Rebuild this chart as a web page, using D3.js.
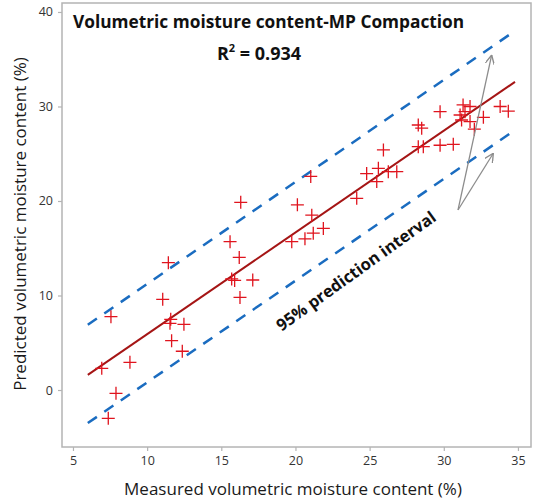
<!DOCTYPE html>
<html>
<head>
<meta charset="utf-8">
<title>Volumetric moisture content-MP Compaction</title>
<script src="https://cdn.jsdelivr.net/npm/d3@7"></script>
<style>
  body { margin: 0; background: #fff; }
  text { font-family: "Open Sans", "Noto Sans", sans-serif; }
</style>
</head>
<body>
<div id="chart"></div>
<script>
// measured vs predicted points
const measured = [7.38, 7.90, 6.94, 8.84, 12.37, 11.65, 12.48, 11.54, 11.59, 7.56,
  11.05, 11.43, 16.26, 15.70, 15.90, 17.12, 16.21, 15.59, 16.31, 19.75,
  20.64, 21.20, 21.88, 21.10, 20.13, 21.03, 24.13, 24.80, 25.59, 25.48,
  26.26, 26.83, 25.93, 28.28, 28.51, 28.28, 28.62, 29.75, 30.64, 29.75,
  31.30, 31.77, 31.10, 31.43, 32.67, 31.77, 31.20, 32.06, 33.80, 34.35];
const predicted = [-3.0, -0.35, 2.29, 2.93, 4.1, 5.22, 6.95, 7.06, 7.48, 7.76,
  9.6, 13.47, 9.8, 11.75, 11.6, 11.64, 14.03, 15.7, 19.86, 15.7,
  16.0, 16.6, 17.1, 18.5, 19.6, 22.6, 20.28, 22.9, 23.46, 22.05,
  23.1, 23.1, 25.4, 28.04, 27.7, 25.75, 25.75, 25.9, 26.0, 29.45,
  30.16, 30.0, 29.1, 29.45, 28.85, 28.4, 28.57, 27.6, 30.0, 29.5];

// fitted line and 95% prediction interval (end points)
const fitX = [6.0, 34.8];
const fitY = [1.6, 32.6];
const upperY = [6.9, 38.0];
const lowerY = [-3.5, 27.5];

const xTicks = [5, 10, 15, 20, 25, 30, 35];
const yTicks = [0, 10, 20, 30, 40];

const width = 536, height = 501;
const box = { left: 62, right: 531, top: 3, bottom: 447 };

const svg = d3.select("#chart").append("svg")
  .attr("width", width).attr("height", height);

const x = d3.scaleLinear().domain([4.26, 35.88]).range([box.left, box.right]);
const y = d3.scaleLinear().domain([-6.03, 40.95]).range([box.bottom, box.top]);

// frame
svg.append("rect")
  .attr("x", box.left).attr("y", box.top)
  .attr("width", box.right - box.left).attr("height", box.bottom - box.top)
  .attr("fill", "none").attr("stroke", "#b4b4b4").attr("stroke-width", 1.5);

// axes
const xAxis = svg.append("g")
  .attr("transform", `translate(0,${box.bottom})`)
  .call(d3.axisBottom(x).tickValues(xTicks).tickSize(4).tickPadding(5));
const yAxis = svg.append("g")
  .attr("transform", `translate(${box.left},0)`)
  .call(d3.axisLeft(y).tickValues(yTicks).tickSize(4).tickPadding(5));
[xAxis, yAxis].forEach(a => {
  a.select(".domain").remove();
  a.selectAll(".tick line").attr("stroke", "#b4b4b4").attr("stroke-width", 1.2);
  a.selectAll(".tick text").attr("fill", "#333").attr("font-size", 12.5)
    .style("font-family", '"Open Sans", sans-serif');
});

// prediction interval
const line = d3.line().x(d => x(d[0])).y(d => y(d[1]));
[upperY, lowerY].forEach(ys => {
  svg.append("path")
    .attr("d", line(fitX.map((v, i) => [v, ys[i]])))
    .attr("fill", "none").attr("stroke", "#1a6cc0")
    .attr("stroke-width", 2.5).attr("stroke-dasharray", "11,9");
});

// fitted line
svg.append("path")
  .attr("d", line(fitX.map((v, i) => [v, fitY[i]])))
  .attr("fill", "none").attr("stroke", "#a51515").attr("stroke-width", 2);

// points as plus markers
const pts = measured.map((m, i) => [m, predicted[i]]);
const r = 6.5;
svg.append("g").selectAll("path")
  .data(pts).enter().append("path")
  .attr("d", d => {
    const cx = x(d[0]), cy = y(d[1]);
    return `M${cx - r},${cy}H${cx + r}M${cx},${cy - r}V${cy + r}`;
  })
  .attr("stroke", "#e0141e").attr("stroke-width", 1.3).attr("fill", "none");

// arrows
svg.append("defs").append("marker")
  .attr("id", "arr").attr("viewBox", "0 0 10 10")
  .attr("refX", 10).attr("refY", 5)
  .attr("markerWidth", 9).attr("markerHeight", 9)
  .attr("markerUnits", "userSpaceOnUse")
  .attr("orient", "auto")
  .append("path").attr("d", "M0,0L10,5L0,10")
  .attr("fill", "none").attr("stroke", "#8c8c8c").attr("stroke-width", 1.5);

const arrowFrom = [30.96, 19.05];
const arrowTo = [[33.23, 35.45], [33.34, 25.05]];
arrowTo.forEach(t => {
  svg.append("line")
    .attr("x1", x(arrowFrom[0])).attr("y1", y(arrowFrom[1]))
    .attr("x2", x(t[0])).attr("y2", y(t[1]))
    .attr("stroke", "#8c8c8c").attr("stroke-width", 1.3)
    .attr("marker-end", "url(#arr)");
});

svg.append("text")
  .attr("transform", `translate(${x(19.06)},${y(6.17)}) rotate(-35.7)`)
  .attr("font-size", 16.5).attr("font-weight", "bold").attr("fill", "#111")
  .text("95% prediction interval");

// title and R²
svg.append("text")
  .attr("x", 73).attr("y", 28)
  .attr("font-size", 17.3).attr("font-weight", "bold").attr("fill", "#111")
  .text("Volumetric moisture content-MP Compaction");

const r2 = svg.append("text")
  .attr("x", 259).attr("y", 60).attr("text-anchor", "middle")
  .attr("font-size", 18).attr("font-weight", "bold").attr("fill", "#111");
r2.append("tspan").text("R");
r2.append("tspan").attr("font-size", 11).attr("dy", -8).text("2");
r2.append("tspan").attr("dy", 8).text(" = 0.934");

// axis titles
svg.append("text")
  .attr("x", 293).attr("y", 495).attr("text-anchor", "middle")
  .attr("font-size", 17).attr("fill", "#1a1a1a")
  .text("Measured volumetric moisture content (%)");

svg.append("text")
  .attr("transform", `translate(26,224) rotate(-90)`)
  .attr("text-anchor", "middle")
  .attr("font-size", 17).attr("fill", "#1a1a1a")
  .text("Predicted volumetric moisture content (%)");
</script>
</body>
</html>
